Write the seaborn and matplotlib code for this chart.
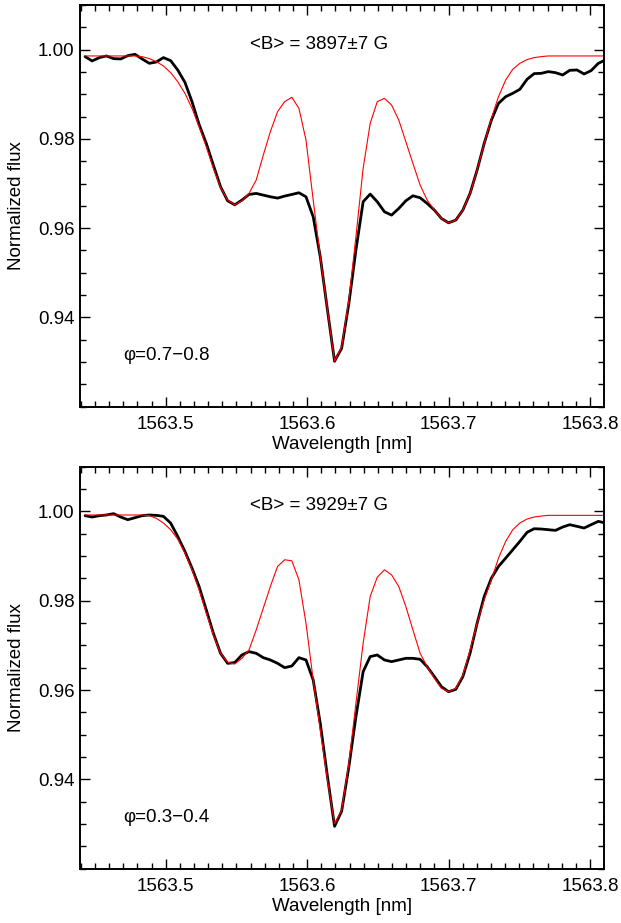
import numpy as np
import pandas as pd
import matplotlib
matplotlib.use("Agg")
import matplotlib.pyplot as plt
import seaborn as sns
from matplotlib.ticker import MultipleLocator, FixedLocator, FormatStrFormatter

# Wavelength grid (nm), shared by observation and model
wavelength = [
    1563.4430, 1563.4480, 1563.4531, 1563.4581, 1563.4632, 1563.4682, 1563.4732, 1563.4783,
    1563.4833, 1563.4884, 1563.4934, 1563.4984, 1563.5035, 1563.5085, 1563.5136, 1563.5186,
    1563.5236, 1563.5287, 1563.5337, 1563.5388, 1563.5438, 1563.5488, 1563.5539, 1563.5589,
    1563.5640, 1563.5690, 1563.5740, 1563.5791, 1563.5841, 1563.5892, 1563.5942, 1563.5992,
    1563.6043, 1563.6093, 1563.6144, 1563.6194, 1563.6244, 1563.6295, 1563.6345, 1563.6396,
    1563.6446, 1563.6496, 1563.6547, 1563.6597, 1563.6648, 1563.6698, 1563.6748, 1563.6799,
    1563.6849, 1563.6900, 1563.6950, 1563.7000, 1563.7051, 1563.7101, 1563.7152, 1563.7202,
    1563.7252, 1563.7303, 1563.7353, 1563.7404, 1563.7454, 1563.7504, 1563.7555, 1563.7605,
    1563.7656, 1563.7706, 1563.7756, 1563.7807, 1563.7857, 1563.7908, 1563.7958, 1563.8008,
    1563.8059, 1563.8109,
]

# Phase 0.7-0.8 (top panel)
obs_top = [
    0.99843, 0.99746, 0.99821, 0.99858, 0.99798, 0.99791, 0.99865, 0.99895,
    0.99791, 0.99693, 0.99723, 0.99821, 0.99753, 0.99544, 0.99267, 0.98834,
    0.98325, 0.97899, 0.97413, 0.96927, 0.96613, 0.96523, 0.96628, 0.96755,
    0.96778, 0.96740, 0.96703, 0.96673, 0.96718, 0.96755, 0.96793, 0.96703,
    0.96254, 0.95357, 0.94161, 0.93017, 0.93308, 0.94310, 0.95507, 0.96591,
    0.96763, 0.96591, 0.96366, 0.96292, 0.96441, 0.96613, 0.96725, 0.96680,
    0.96553, 0.96404, 0.96217, 0.96120, 0.96179, 0.96404, 0.96778, 0.97301,
    0.97899, 0.98422, 0.98796, 0.98946, 0.99021, 0.99110, 0.99335, 0.99462,
    0.99469, 0.99507, 0.99484, 0.99432, 0.99536, 0.99544, 0.99454, 0.99529,
    0.99693, 0.99768,
]
model_top = [
    0.99858, 0.99858, 0.99858, 0.99858, 0.99858, 0.99858, 0.99858, 0.99858,
    0.99843, 0.99798, 0.99731, 0.99634, 0.99484, 0.99282, 0.99021, 0.98684,
    0.98273, 0.97824, 0.97338, 0.96912, 0.96628, 0.96523, 0.96613, 0.96778,
    0.97077, 0.97637, 0.98161, 0.98609, 0.98834, 0.98931, 0.98684, 0.97974,
    0.96628, 0.95357, 0.94161, 0.93017, 0.93338, 0.94385, 0.95806, 0.97338,
    0.98348, 0.98834, 0.98908, 0.98759, 0.98422, 0.97936, 0.97450, 0.96964,
    0.96628, 0.96404, 0.96217, 0.96120, 0.96179, 0.96404, 0.96778, 0.97301,
    0.97899, 0.98460, 0.98946, 0.99320, 0.99559, 0.99693, 0.99776, 0.99821,
    0.99843, 0.99858, 0.99858, 0.99858, 0.99858, 0.99858, 0.99858, 0.99858,
    0.99858, 0.99858,
]

# Phase 0.3-0.4 (bottom panel)
obs_bottom = [
    0.99903, 0.99873, 0.99903, 0.99918, 0.99948, 0.99873, 0.99813, 0.99858,
    0.99903, 0.99918, 0.99910, 0.99888, 0.99738, 0.99439, 0.99103, 0.98729,
    0.98318, 0.97794, 0.97271, 0.96822, 0.96598, 0.96613, 0.96785, 0.96860,
    0.96822, 0.96725, 0.96673, 0.96598, 0.96501, 0.96538, 0.96725, 0.96673,
    0.96224, 0.95252, 0.94056, 0.92950, 0.93286, 0.94280, 0.95402, 0.96411,
    0.96748, 0.96785, 0.96673, 0.96636, 0.96673, 0.96710, 0.96710, 0.96688,
    0.96523, 0.96299, 0.96075, 0.95963, 0.96015, 0.96299, 0.96822, 0.97495,
    0.98093, 0.98505, 0.98766, 0.98953, 0.99140, 0.99327, 0.99529, 0.99611,
    0.99604, 0.99589, 0.99574, 0.99649, 0.99701, 0.99664, 0.99626, 0.99701,
    0.99776, 0.99738,
]
model_bottom = [
    0.99918, 0.99918, 0.99918, 0.99918, 0.99918, 0.99918, 0.99918, 0.99918,
    0.99918, 0.99903, 0.99843, 0.99738, 0.99589, 0.99379, 0.99065, 0.98692,
    0.98243, 0.97720, 0.97234, 0.96822, 0.96621, 0.96583, 0.96710, 0.96897,
    0.97346, 0.97832, 0.98318, 0.98766, 0.98916, 0.98893, 0.98467, 0.97495,
    0.96224, 0.95103, 0.93981, 0.93009, 0.93308, 0.94355, 0.95701, 0.97047,
    0.98093, 0.98527, 0.98692, 0.98579, 0.98318, 0.97869, 0.97346, 0.96822,
    0.96523, 0.96262, 0.96037, 0.95963, 0.96037, 0.96336, 0.96897, 0.97495,
    0.98019, 0.98467, 0.98953, 0.99327, 0.99589, 0.99738, 0.99828, 0.99873,
    0.99895, 0.99910, 0.99910, 0.99910, 0.99910, 0.99910, 0.99910, 0.99910,
    0.99910, 0.99910,
]

field_labels = ["<B> = 3897\u00b17 G", "<B> = 3929\u00b17 G"]
phase_labels = ["\u03c6=0.7\u22120.8", "\u03c6=0.3\u22120.4"]
x_ticks = [1563.5, 1563.6, 1563.7, 1563.8]
y_ticks = [0.94, 0.96, 0.98, 1.00]

sns.set_style("ticks")
plt.rcParams["font.family"] = ["Liberation Sans", "DejaVu Sans"]
plt.rcParams["font.size"] = 13.5
plt.rcParams["text.color"] = "black"
plt.rcParams["axes.labelcolor"] = "black"
plt.rcParams["xtick.color"] = "black"
plt.rcParams["ytick.color"] = "black"

fig = plt.figure(figsize=(6.21, 9.23), dpi=100)
ax_top = fig.add_axes([0.1288, 0.5594, 0.8438, 0.4352])
ax_bot = fig.add_axes([0.1288, 0.0588, 0.8438, 0.4356])

panels = [
    (ax_top, obs_top, model_top, field_labels[0], phase_labels[0]),
    (ax_bot, obs_bottom, model_bottom, field_labels[1], phase_labels[1]),
]

for ax, obs, model, field_txt, phase_txt in panels:
    df = pd.DataFrame({"Wavelength": wavelength, "Observed": obs, "Model": model})

    # observed spectrum (black) and model fit (red)
    sns.lineplot(data=df, x="Wavelength", y="Observed", color="black", linewidth=2.0, ax=ax)
    sns.lineplot(data=df, x="Wavelength", y="Model", color="red", linewidth=0.8, ax=ax)

    ax.set_xlim(1563.4394, 1563.8099)
    ax.set_ylim(0.92, 1.01)

    ax.xaxis.set_major_locator(FixedLocator(x_ticks))
    ax.xaxis.set_minor_locator(MultipleLocator(0.01))
    ax.yaxis.set_major_locator(FixedLocator(y_ticks))
    ax.yaxis.set_minor_locator(MultipleLocator(0.005))
    ax.xaxis.set_major_formatter(FormatStrFormatter("%.1f"))
    ax.yaxis.set_major_formatter(FormatStrFormatter("%.2f"))

    ax.tick_params(which="both", direction="in", top=True, right=True,
                   colors="black", labelsize=13.5, width=1.0)
    ax.tick_params(which="major", length=7.5)
    ax.tick_params(which="minor", length=4.3)
    ax.tick_params(axis="x", which="major", pad=7)
    ax.tick_params(axis="y", which="major", pad=4)

    for side in ["top", "bottom", "left", "right"]:
        ax.spines[side].set_visible(True)
        ax.spines[side].set_color("black")
        ax.spines[side].set_linewidth(1.4)

    ax.set_xlabel("Wavelength [nm]", fontsize=13.5, labelpad=2, color="black")
    ax.set_ylabel("Normalized flux", fontsize=13.5, labelpad=9, color="black")
    ax.grid(False)

    ax.text(1563.5598, 1.0012, field_txt, ha="left", va="center", fontsize=13.5, color="black")
    ax.text(1563.4698, 0.9315, phase_txt, ha="left", va="center", fontsize=13.5, color="black")

fig.savefig("out.png", dpi=100)
